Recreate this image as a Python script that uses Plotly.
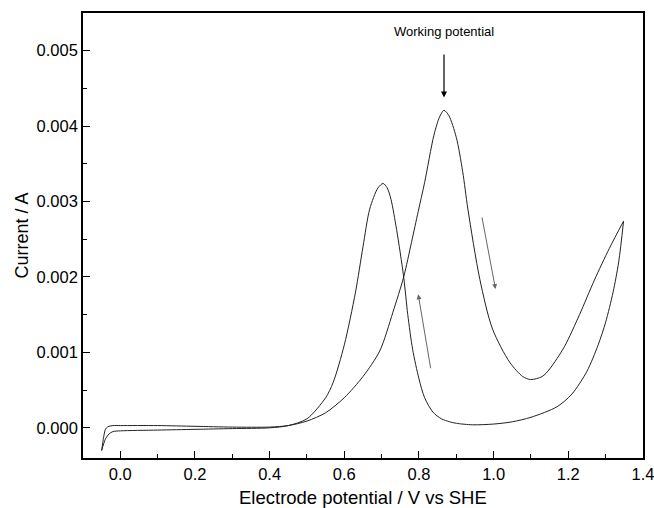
import plotly.graph_objects as go

# Forward (positive-going) scan
fwd_x = [-0.05, -0.045, -0.04, -0.035, -0.03, -0.02, 0.0, 0.1, 0.2, 0.3, 0.4, 0.45, 0.5, 0.55,
         0.6, 0.65, 0.695, 0.73, 0.759, 0.78, 0.798, 0.815, 0.84, 0.855, 0.867, 0.88, 0.90,
         0.917, 0.931, 0.963, 0.997, 1.043, 1.078, 1.099, 1.13, 1.15, 1.19, 1.23, 1.27, 1.31, 1.348]
fwd_y = [-0.00030, -0.00013, -0.00002, 0.00001, 0.00002, 0.00003, 0.00003, 0.00003, 0.00002,
         0.00001, 0.00001, 0.00003, 0.00009, 0.00020, 0.00040, 0.00068, 0.00102, 0.00153,
         0.00200, 0.00246, 0.00287, 0.00325, 0.00388, 0.00412, 0.00421, 0.00414, 0.00385,
         0.00340, 0.00290, 0.00197, 0.00131, 0.00087, 0.00068, 0.00064, 0.00068, 0.00078,
         0.00108, 0.00150, 0.00196, 0.00238, 0.00274]

# Reverse (negative-going) scan
rev_x = [1.348, 1.335, 1.32, 1.30, 1.28, 1.25, 1.21, 1.17, 1.10, 1.05, 1.0, 0.944, 0.90, 0.882,
         0.86, 0.837, 0.815, 0.80, 0.783, 0.77, 0.759, 0.74, 0.725, 0.715, 0.704, 0.69, 0.668,
         0.65, 0.63, 0.6, 0.57, 0.55, 0.5, 0.45, 0.4, 0.3, 0.2, 0.1, 0.0, -0.02, -0.03, -0.04, -0.05]
rev_y = [0.00274, 0.00220, 0.00180, 0.00140, 0.00110, 0.00075, 0.00045, 0.00028, 0.00014,
         0.00008, 0.00005, 0.00004, 0.00006, 0.00008, 0.00012, 0.00021, 0.00040, 0.00065,
         0.00104, 0.00150, 0.00200, 0.00263, 0.00303, 0.00318, 0.00324, 0.00318, 0.00290,
         0.00240, 0.00180, 0.00110, 0.00060, 0.00040, 0.00012, 0.00003, 0.00000, -0.00001,
         -0.00002, -0.00003, -0.00004, -0.00005, -0.00008, -0.00015, -0.00030]

x_ticks = [0.0, 0.2, 0.4, 0.6, 0.8, 1.0, 1.2, 1.4]
x_ticktext = ["0.0", "0.2", "0.4", "0.6", "0.8", "1.0", "1.2", "1.4"]
y_ticks = [0.000, 0.001, 0.002, 0.003, 0.004, 0.005]
y_ticktext = ["0.000", "0.001", "0.002", "0.003", "0.004", "0.005"]
x_title = "Electrode potential / V vs SHE"
y_title = "Current / A"

FONT = "Liberation Sans, Arial, sans-serif"

fig = go.Figure()
for xs, ys in ((fwd_x, fwd_y), (rev_x, rev_y)):
    fig.add_trace(go.Scatter(x=xs, y=ys, mode="lines",
                             line=dict(color="#222222", width=1, shape="spline", smoothing=0.8),
                             showlegend=False, hoverinfo="skip"))

axis_common = dict(showline=True, linecolor="black", linewidth=1.6, mirror=True,
                   ticks="inside", ticklen=7, tickwidth=1.3, tickcolor="black",
                   showgrid=False, zeroline=False, automargin=False, ticklabeloverflow="allow",
                   tickfont=dict(family=FONT, size=16.5, color="black"))

fig.update_xaxes(range=[-0.1, 1.4001], tickvals=x_ticks, ticktext=x_ticktext,
                 minor=dict(dtick=0.1, tick0=0, ticks="inside", ticklen=4, tickcolor="black", tickwidth=1),
                 **axis_common)
fig.update_yaxes(range=[-0.0004, 0.0055], tickvals=y_ticks, ticktext=y_ticktext,
                 minor=dict(dtick=0.0005, tick0=0, ticks="inside", ticklen=4, tickcolor="black", tickwidth=1),
                 **axis_common)

# Axis titles
fig.add_annotation(x=0.5, y=-0.088, xref="paper", yref="paper", text=x_title, showarrow=False,
                   xanchor="center", yanchor="middle", font=dict(family=FONT, size=18.5, color="black"))
fig.add_annotation(x=-0.109, y=0.5, xref="paper", yref="paper", text=y_title, showarrow=False,
                   textangle=-90, xanchor="center", yanchor="middle",
                   font=dict(family=FONT, size=18, color="black"))

# Arrows
fig.add_annotation(x=0.867, y=0.00438, ax=0.867, ay=0.00497, xref="x", yref="y", axref="x", ayref="y",
                   showarrow=True, arrowhead=2, arrowsize=1, arrowwidth=1.2, arrowcolor="black", text="")
fig.add_annotation(x=0.798, y=0.00177, ax=0.832, ay=0.00077, xref="x", yref="y", axref="x", ayref="y",
                   showarrow=True, arrowhead=2, arrowsize=1, arrowwidth=1, arrowcolor="#666666", text="")
fig.add_annotation(x=1.005, y=0.00184, ax=0.968, ay=0.00281, xref="x", yref="y", axref="x", ayref="y",
                   showarrow=True, arrowhead=2, arrowsize=1, arrowwidth=1, arrowcolor="#666666", text="")
fig.add_annotation(x=0.868, y=0.00525, xref="x", yref="y", text="Working potential", showarrow=False,
                   font=dict(family=FONT, size=13, color="black"))

fig.update_layout(width=654, height=508, margin=dict(l=83, r=11, t=13, b=50, autoexpand=False),
                  paper_bgcolor="white", plot_bgcolor="white",
                  font=dict(family=FONT, color="black"))

fig.write_html("out.html")
